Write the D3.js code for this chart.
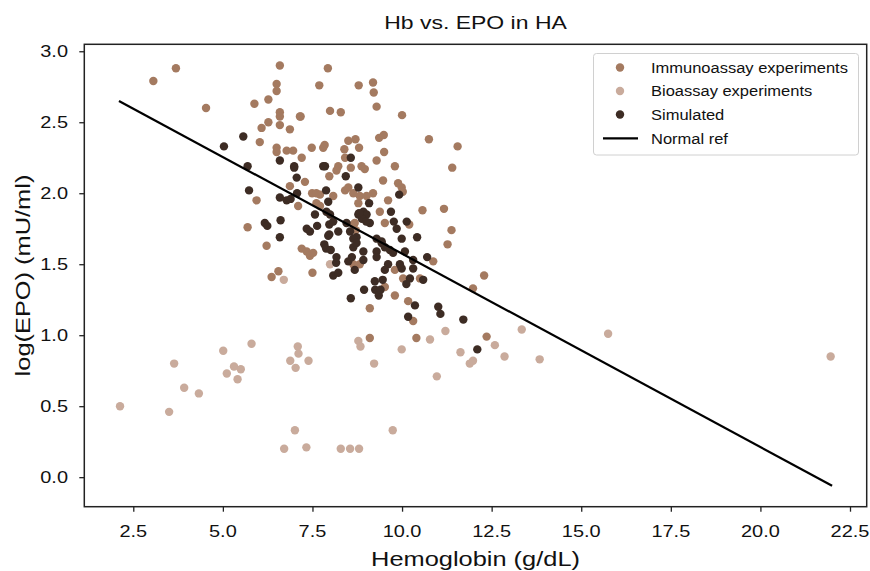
<!DOCTYPE html>
<html>
<head>
<meta charset="utf-8">
<script src="https://cdn.jsdelivr.net/npm/d3@7"></script>
<style>
  body { margin: 0; background: #fff; }
  svg text { font-family: "Liberation Sans", Arial, sans-serif; fill: #111; }
</style>
</head>
<body>
<div id="chart"></div>
<script>
// Immunoassay experiments [Hb, log EPO]
const immuno = [
  [3.06,2.79],[3.69,2.88],[4.53,2.60],[6.59,2.90],[6.50,2.77],[6.50,2.72],[7.93,2.88],[7.69,2.76],[8.79,2.76],[9.19,2.78],
  [9.21,2.71],[9.29,2.61],[10.00,2.55],[7.99,2.58],[8.29,2.57],[10.75,2.38],[11.55,2.33],[11.40,2.18],[7.48,2.32],[7.80,2.32],
  [7.84,2.34],[8.50,2.37],[8.70,2.38],[8.80,2.32],[8.39,2.31],[9.36,2.39],[9.49,2.41],[9.50,2.29],[9.29,2.23],[9.80,2.19],
  [8.41,2.25],[8.22,2.19],[8.17,2.16],[8.57,2.18],[8.87,2.19],[8.96,2.17],[7.20,2.25],[7.15,2.54],
  [5.88,2.63],[6.27,2.66],[6.59,2.57],[6.59,2.54],[6.59,2.48],[6.87,2.45],[7.17,2.54],[6.08,2.46],[6.27,2.50],[6.03,2.36],
  [6.50,2.32],[6.50,2.29],[6.78,2.30],[6.96,2.30],[7.97,2.12],[6.87,2.05],[7.29,2.08],[5.94,1.95],[7.10,1.91],[7.49,2.00],
  [7.61,2.00],[7.71,1.99],[7.61,1.93],[8.08,1.98],[8.41,2.02],[8.50,2.04],[8.64,2.00],[8.82,1.98],[9.01,1.98],[9.19,2.00],
  [8.78,1.93],[5.69,1.76],[8.68,1.79],[7.71,1.91],
  [6.22,1.63],[7.20,1.61],[7.34,1.59],[7.43,1.56],[7.52,1.58],[8.64,1.78],[8.71,1.74],[9.38,1.87],[9.52,1.79],[10.20,1.78],
  [8.82,1.50],[8.64,1.50],[10.87,1.52],[10.57,1.88],[11.17,1.89],[11.38,1.74],[11.27,1.64],[12.29,1.42],[11.98,1.33],[12.36,0.99],
  [10.31,1.10],[10.17,1.24],[10.40,0.98],[9.10,1.19],[9.80,1.28],[9.52,1.34],[10.03,1.40],[9.10,0.98],[7.50,1.44],[6.36,1.41],
  [6.55,1.45],[9.47,2.09],[9.89,2.07],[9.99,2.04],[10.02,2.01],[9.61,1.95],[9.80,1.46],[10.50,1.40]
];

// Bioassay experiments
const bioassay = [
  [2.13,0.50],[3.64,0.80],[3.92,0.63],[4.33,0.59],[3.50,0.46],[5.01,0.89],[5.80,0.94],[5.31,0.78],[5.50,0.76],[5.11,0.73],
  [5.41,0.69],[7.09,0.92],[7.11,0.87],[6.88,0.82],[7.39,0.82],[7.03,0.77],[7.01,0.33],[6.71,0.20],[7.33,0.21],[8.29,0.20],
  [8.55,0.20],[8.80,0.20],[9.74,0.33],[8.78,0.96],[8.84,0.92],[9.22,0.80],[9.99,0.90],[10.78,0.97],[11.21,1.03],[10.97,0.71],
  [11.63,0.88],[11.89,0.80],[11.98,0.82],[7.99,1.50],[6.70,1.39],[12.59,0.93],[13.34,1.04],[15.75,1.01],[21.96,0.85],[12.86,0.85],
  [13.84,0.83]
];

// Simulated
const simulated = [
  [5.57,2.40],[5.03,2.33],[5.69,2.19],[6.59,2.23],[6.99,2.19],[6.99,2.18],[7.06,2.11],[7.85,2.19],[8.43,2.12],[8.57,2.25],
  [7.80,2.19],[5.73,2.02],[6.59,1.97],[6.78,1.95],[6.89,1.96],[7.07,2.00],[7.88,2.02],[7.94,1.94],[8.78,2.04],[9.08,1.93],
  [6.17,1.79],[6.24,1.77],[6.61,1.81],[6.59,1.69],[7.57,1.85],[7.34,1.75],[7.43,1.73],[7.63,1.77],[7.89,1.87],[7.99,1.85],
  [7.97,1.78],[8.08,1.80],[8.22,1.73],[7.97,1.71],[8.45,1.79],[8.78,1.85],[8.92,1.87],[9.01,1.85],[9.10,1.79],[8.73,1.69],
  [7.83,1.64],[7.88,1.61],[8.01,1.60],[7.94,1.70],[8.88,1.82],[9.00,1.80],[8.80,1.86],[9.69,1.87],[9.77,1.80],[9.85,1.75],
  [10.13,1.80],[9.99,1.68],[10.42,1.69],[8.55,1.73],[8.64,1.68],[8.64,1.62],[8.73,1.65],[8.92,1.59],[8.92,1.53],[8.68,1.46],
  [9.29,1.59],[9.29,1.55],[9.43,1.65],[9.52,1.62],[9.66,1.60],[9.75,1.58],[9.61,1.50],[9.52,1.46],[9.94,1.50],[9.99,1.47],
  [10.08,1.59],[10.31,1.53],[10.31,1.47],[10.70,1.55],[11.71,1.11],[12.10,0.90],[11.01,1.20],[11.07,1.15],[10.17,1.13],[10.36,1.21],
  [9.25,1.32],[9.35,1.28],[9.40,1.32],[8.57,1.26],[8.94,1.32],[10.22,1.40],[10.59,1.39],[8.16,1.51],[8.08,1.42],[8.22,1.44],
  [9.92,1.99],[9.29,1.68],[9.43,1.66],[9.24,1.38],[9.46,1.39],[10.12,1.36],[8.17,1.55],[8.50,1.52],[8.60,1.55]
];

// Normal reference line endpoints
const normalRef = [[2.1,2.65],[22.0,-0.06]];

const xTicks = [2.5,5.0,7.5,10.0,12.5,15.0,17.5,20.0,22.5];
const yTicks = [0.0,0.5,1.0,1.5,2.0,2.5,3.0];

const series = [
  {name: "Immunoassay experiments", data: immuno, color: "#a47a60"},
  {name: "Bioassay experiments", data: bioassay, color: "#c9ab9c"},
  {name: "Simulated", data: simulated, color: "#3d2c24"}
];

var width = 870, height = 571;
var margin = {top: 44.3, right: 3.3, bottom: 64.3, left: 84.3};
var stretch = 1.21; // the reference text is wider than Arial

const svg = d3.select("#chart")
  .append("svg")
  .attr("width", width)
  .attr("height", height);

// text helper: anchored at (x,y), optionally rotated, stretched along its length
function label(parent, x, y, str, size, anchor, rot, sx) {
  return parent.append("text")
    .attr("transform", "translate(" + x + "," + y + ") rotate(" + (rot || 0) + ") scale(" + (sx || stretch) + ",1)")
    .attr("text-anchor", anchor || "middle")
    .style("font-size", size + "px")
    .text(str);
}

var x = d3.scaleLinear()
  .domain([1.133, 22.966])
  .range([margin.left, width - margin.right]);

var y = d3.scaleLinear()
  .domain([-0.208, 3.049])
  .range([height - margin.bottom, margin.top]);

// points
series.forEach(function(s) {
  svg.append("g")
    .selectAll("circle")
    .data(s.data)
    .enter()
    .append("circle")
      .attr("cx", d => x(d[0]))
      .attr("cy", d => y(d[1]))
      .attr("r", 4.2)
      .attr("fill", s.color);
});

// normal reference line
svg.append("path")
  .datum(normalRef)
  .attr("d", d3.line().x(d => x(d[0])).y(d => y(d[1])))
  .attr("fill", "none")
  .attr("stroke", "#000")
  .attr("stroke-width", 2.2);

// axes (ticks from d3, labels drawn stretched)
const xAxis = svg.append("g")
  .attr("transform", "translate(0," + (height - margin.bottom) + ")")
  .call(d3.axisBottom(x).tickValues(xTicks).tickFormat("").tickSizeOuter(0).tickSize(5));
const yAxis = svg.append("g")
  .attr("transform", "translate(" + margin.left + ",0)")
  .call(d3.axisLeft(y).tickValues(yTicks).tickFormat("").tickSizeOuter(0).tickSize(5));

[xAxis, yAxis].forEach(function(a) {
  a.select(".domain").remove();
  a.selectAll(".tick line").attr("stroke", "#222").attr("stroke-width", 1.3);
});

const fmt = d3.format(".1f");
xTicks.forEach(function(t) {
  label(svg, x(t), 537, fmt(t), 16.5, "middle");
});
yTicks.forEach(function(t) {
  label(svg, 68, y(t) + 6, fmt(t), 16.5, "end");
});

// frame
svg.append("rect")
  .attr("x", margin.left)
  .attr("y", margin.top)
  .attr("width", width - margin.left - margin.right)
  .attr("height", height - margin.bottom - margin.top)
  .attr("fill", "none")
  .attr("stroke", "#222")
  .attr("stroke-width", 1.5);

// title and axis labels
const cx = (margin.left + width - margin.right) / 2;
label(svg, cx, 29, "Hb vs. EPO in HA", 19, "middle");
label(svg, cx, 566, "Hemoglobin (g/dL)", 21, "middle");
label(svg, 30, (margin.top + height - margin.bottom) / 2, "log(EPO) (mU/ml)", 21, "middle", -90);

// legend
const legend = svg.append("g");
legend.append("rect")
  .attr("x", 593.5).attr("y", 53.5)
  .attr("width", 265).attr("height", 101.5)
  .attr("rx", 3)
  .attr("fill", "#fff").attr("fill-opacity", 0.85)
  .attr("stroke", "#d0d0d0").attr("stroke-width", 1);

const rowY = [67.5, 91, 114.5, 138.3];
series.forEach(function(s, i) {
  legend.append("circle")
    .attr("cx", 620).attr("cy", rowY[i]).attr("r", 4.2)
    .attr("fill", s.color);
  label(legend, 651, rowY[i] + 5.3, s.name, 15, "start", 0, 1.1);
});
legend.append("line")
  .attr("x1", 603).attr("x2", 638)
  .attr("y1", rowY[3]).attr("y2", rowY[3])
  .attr("stroke", "#000").attr("stroke-width", 2.2);
label(legend, 651, rowY[3] + 5.3, "Normal ref", 15, "start", 0, 1.1);
</script>
</body>
</html>
